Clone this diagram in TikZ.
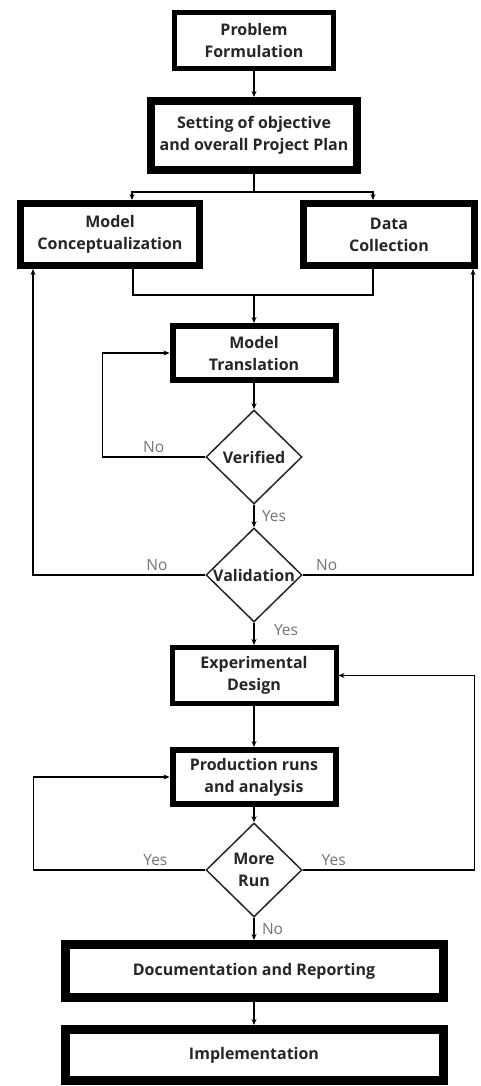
\documentclass[tikz,border=0pt]{standalone}
\usepackage{fontspec}
\setmainfont{Open Sans}
\usetikzlibrary{shapes.geometric,arrows.meta,positioning}

\begin{document}
\begin{tikzpicture}[x=1pt,y=-1pt,>={Stealth[length=6pt,width=5pt]},line width=1.4pt,
    block/.style={rectangle, draw=black, line width=#1, fill=white, align=center, inner sep=0pt, font=\bfseries\fontsize{16}{22}\selectfont, text=black!85},
    check/.style={diamond, draw=black!85, line width=1.5pt, minimum width=96pt, minimum height=94pt, inner sep=0pt,
        label={[align=center, font=\bfseries\fontsize{16}{22}\selectfont, text=black!85]center:#1}},
    ans/.style={font=\fontsize{15.5}{18}\selectfont, text=black!55}
    ]

    \useasboundingbox (0,0) rectangle (480,1086);

    \node[block=5pt, minimum width=159pt, minimum height=56pt] (s_0) at (254,40.5) {Problem\\Formulation};
    \node[block=8pt, minimum width=206pt, minimum height=69pt] (s_1) at (254,135.5) {Setting of objective\\and overall Project Plan};
    \node[block=7pt, minimum width=179pt, minimum height=62pt] (s_2) at (110,234.5) {Model\\Conceptualization};
    \node[block=7pt, minimum width=171pt, minimum height=62pt] (s_3) at (389,234.5) {Data\\Collection};
    \node[block=6pt, minimum width=163pt, minimum height=54pt] (s_4) at (254,353) {Model\\Translation};
    \node[check=Verified] (d_0) at (254,457) {};
    \node[check=Validation] (d_1) at (254,575) {};
    \node[block=5pt, minimum width=164pt, minimum height=56pt] (s_5) at (254,675.5) {Experimental\\Design};
    \node[block=6pt, minimum width=163pt, minimum height=54pt] (s_6) at (254,777) {Production runs\\and analysis};
    \node[check={More\\Run}] (d_2) at (254,870) {};
    \node[block=9pt, minimum width=378pt, minimum height=53pt] (s_7) at (254,971) {Documentation and Reporting};
    \node[block=9pt, minimum width=378pt, minimum height=51pt] (s_8) at (254,1055) {Implementation};

    \coordinate (split) at (254,192);
    \coordinate (merge) at (254,295);

    \draw[->] (s_0) -- (s_1);
    \draw (s_1) -- (split);
    \draw[->] (split) -| ([xshift=22pt]s_2.north);
    \draw[->] (split) -| ([xshift=-16pt]s_3.north);
    \draw ([xshift=23pt]s_2.south) |- (merge) -| ([xshift=-16pt]s_3.south);
    \draw[->] (merge) -- (s_4);
    \draw[->] (s_4) -- (d_0);

    \draw[->] (d_0.west) -- node[ans, above] {No} ++(-103,0) |- (s_4.west);
    \draw[->] (d_0) -- node[ans, right, xshift=4pt] {Yes} (d_1);
    \draw[->] (d_1.west) -| node[ans, above, pos=0.14] {No} ([xshift=-77pt]s_2.south);
    \draw[->] (d_1.east) -| node[ans, above, pos=0.07] {No} ([xshift=84pt]s_3.south);
    \draw[->] (d_1) -- node[ans, right, xshift=16pt, yshift=4pt] {Yes} (s_5);

    \draw[->] (s_5) -- (s_6);
    \draw[->] (s_6) -- (d_2);
    \draw[->] (d_2.east) -- node[ans, above, pos=0.18] {Yes} ++(172,0) |- (s_5.east);
    \draw[->] (d_2.west) -- node[ans, above, pos=0.29] {Yes} ++(-172,0) |- (s_6.west);
    \draw[->] (d_2) -- node[ans, right, xshift=4pt] {No} (s_7);
    \draw[->] (s_7) -- (s_8);

\end{tikzpicture}
\end{document}
